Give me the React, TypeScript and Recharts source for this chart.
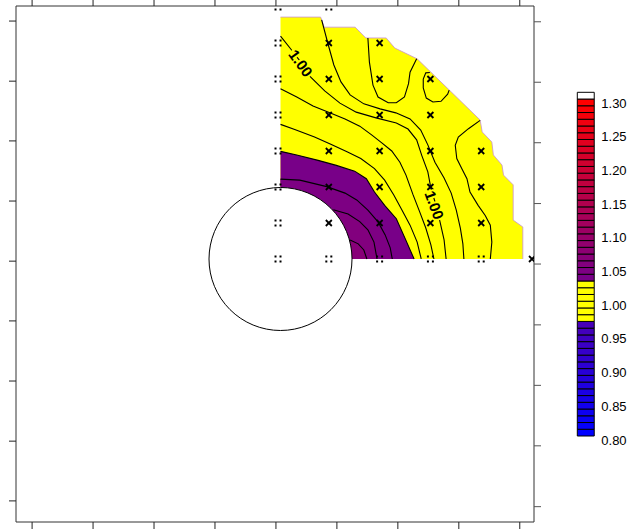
import React from 'react';
import { ComposedChart, Area, Line, Scatter, XAxis, YAxis, ReferenceArea } from 'recharts';

// grid units: x = column of sample nodes, y = row of sample nodes (hole centre at 0,0)
const fillEdge = [[0.0, 6.72], [0.79, 6.72], [0.86, 6.44], [1.47, 6.44], [1.68, 6.14], [2.08, 6.14], [2.25, 5.86], [2.69, 5.56], [3.93, 3.86], [3.97, 3.53], [4.16, 3.25], [4.19, 2.89], [4.36, 2.61], [4.39, 2.33], [4.58, 2.06], [4.58, 1.08], [4.77, 0.89], [4.77, 0.0]];

const c106 = [[1.37, 0.53], [1.53, 0.42], [1.64, 0.25], [1.7, 0.0]];
const c105 = [[1.04, 1.37], [1.33, 1.25], [1.56, 1.04], [1.72, 0.81], [1.84, 0.47], [1.9, 0.0]];
const c104 = [[0.0, 2.22], [0.38, 2.19], [0.91, 2.01], [1.27, 1.83], [1.5, 1.64], [1.72, 1.36], [1.92, 1.03], [2.06, 0.67], [2.16, 0.31], [2.2, 0.0]];
const c103 = [[0.0, 2.99], [0.34, 2.88], [0.74, 2.74], [1.1, 2.6], [1.46, 2.44], [1.69, 2.23], [1.85, 1.86], [2.05, 1.49], [2.28, 1.12], [2.45, 0.58], [2.63, 0.0]];
const c102 = [[0.0, 3.74], [0.28, 3.6], [0.67, 3.39], [0.99, 3.19], [1.32, 2.97], [1.58, 2.79], [1.85, 2.51], [2.05, 2.19], [2.23, 1.78], [2.39, 1.36], [2.55, 0.94], [2.69, 0.47], [2.77, 0.0]];
const c101 = [[0.0, 4.73], [0.32, 4.5], [0.64, 4.25], [0.97, 4.06], [1.27, 3.89], [1.56, 3.69], [1.8, 3.44], [2.0, 3.22], [2.19, 3.0], [2.35, 2.69], [2.47, 2.33], [2.61, 1.78], [2.74, 1.31], [2.86, 0.86], [2.96, 0.39], [3.02, 0.0]];
const c100 = [[0.0, 6.19], [0.21, 5.82], [0.4, 5.47], [0.59, 5.06], [0.87, 4.67], [1.17, 4.33], [1.49, 4.08], [1.88, 3.92], [2.28, 3.78], [2.51, 3.61], [2.68, 3.31], [2.78, 2.88], [2.9, 2.42], [2.96, 1.97], [3.06, 1.5], [3.14, 1.03], [3.22, 0.53], [3.26, 0.0]];
const c099 = [[0.81, 6.64], [0.93, 6.0], [1.05, 5.39], [1.19, 4.92], [1.37, 4.56], [1.64, 4.31], [1.96, 4.17], [2.27, 4.06], [2.55, 3.89], [2.76, 3.58], [2.9, 3.17], [3.04, 2.69], [3.22, 2.25], [3.36, 1.83], [3.46, 1.36], [3.54, 0.86], [3.59, 0.42], [3.61, 0.0]];
const c098top = [[1.72, 6.14], [1.75, 5.47], [1.82, 4.83], [1.92, 4.5], [2.12, 4.34], [2.28, 4.34], [2.44, 4.5], [2.52, 4.87], [2.55, 5.19], [2.68, 5.56]];
const c098right = [[3.93, 3.85], [3.7, 3.62], [3.5, 3.39], [3.44, 3.16], [3.47, 2.79], [3.57, 2.51], [3.67, 2.23], [3.73, 1.86], [3.89, 1.49], [4.03, 1.21], [4.13, 0.94], [4.16, 0.47], [4.13, 0.0]];
const c097 = [[2.94, 5.18], [2.86, 5.17], [2.81, 5.0], [2.81, 4.75], [2.87, 4.47], [3.0, 4.36], [3.16, 4.38], [3.29, 4.58], [3.32, 4.69]];

const contourLabels = [
  { x: 0.4, y: 5.44, text: '1.00', angle: 54 },
  { x: 3.03, y: 1.5, text: '1.00', angle: 70 },
];

const crossNodes = [[1, 1], [2, 1], [3, 1], [4, 1], [1, 2], [2, 2], [3, 2], [4, 2], [1, 3], [2, 3], [3, 3], [4, 3], [1, 4], [2, 4], [3, 4], [1, 5], [2, 5], [3, 5], [1, 6], [2, 6], [5, 0]];
const edgeNodes = [[0, 0], [0, 1], [0, 2], [0, 3], [0, 4], [0, 5], [0, 6], [0, 7], [1, 0], [2, 0], [3, 0], [4, 0], [1, 7]];
const holeCentre = [[0, 0]];

const xTicks = [-4.89, -3.69, -2.49, -1.29, -0.09, 1.11, 2.31, 3.51, 4.71];
const yTicksLeft = [6.61, 4.94, 3.28, 1.61, -0.06, -1.72, -3.39, -5.06, -6.72];
const yTicksRight = [6.59, 4.91, 3.23, 1.54, -0.14, -1.83, -3.51, -5.19, -6.88];

const levels = [0.8, 0.81, 0.82, 0.83, 0.84, 0.85, 0.86, 0.87, 0.88, 0.89, 0.9, 0.91, 0.92, 0.93, 0.94, 0.95, 0.96, 0.97, 0.98, 0.99, 1.0, 1.01, 1.02, 1.03, 1.04, 1.05, 1.06, 1.07, 1.08, 1.09, 1.1, 1.11, 1.12, 1.13, 1.14, 1.15, 1.16, 1.17, 1.18, 1.19, 1.2, 1.21, 1.22, 1.23, 1.24, 1.25, 1.26, 1.27, 1.28, 1.29, 1.3, 1.31];
const barTicks = [0.8, 0.85, 0.9, 0.95, 1.0, 1.05, 1.1, 1.15, 1.2, 1.25, 1.3];

const pts = (a: number[][]) => a.map(([x, y]) => ({ x, y }));

const lerp = (a: number[], b: number[], t: number) =>
  `rgb(${a.map((v, i) => Math.round(v + (b[i] - v) * t)).join(',')})`;

function levelColor(v: number) {
  if (v >= 1.295) return '#ffffff';
  if (v >= 0.965 && v < 1.025) return '#ffff00';
  if (v >= 1.025) return lerp([120, 0, 136], [255, 0, 0], (v - 1.03) / 0.26);
  return lerp([0, 0, 255], [72, 0, 184], (v - 0.8) / 0.16);
}

const FONT = '"Liberation Sans", Arial, sans-serif';
const AX = { xAxisId: 'b', yAxisId: 'l' };
const X_DOMAIN = [-5.207, 4.99];
const Y_DOMAIN = [-7.306, 7.028];

const Cross = (p: any) => {
  const x = p.cx - 2.5;
  const y = p.cy;
  return (
    <g stroke="#000" strokeWidth={1.8}>
      <line x1={x - 3} y1={y - 3} x2={x + 3} y2={y + 3} />
      <line x1={x - 3} y1={y + 3} x2={x + 3} y2={y - 3} />
    </g>
  );
};

const EdgeMark = (p: any) => {
  const x = p.cx - 2.5;
  const y = p.cy;
  return (
    <g fill="#000">
      <rect x={x - 3.5} y={y - 3.5} width={2} height={2} />
      <rect x={x + 1.5} y={y - 3.5} width={2} height={2} />
      <rect x={x - 3.5} y={y + 1.5} width={2} height={2} />
      <rect x={x + 1.5} y={y + 1.5} width={2} height={2} />
    </g>
  );
};

const Hole = (p: any) => <circle cx={p.cx} cy={p.cy} r={71.5} fill="#fff" stroke="#000" strokeWidth={1} />;

const LabelMark = (p: any) => {
  const { cx, cy, payload } = p;
  return (
    <text
      x={cx}
      y={cy}
      transform={`rotate(${payload.angle} ${cx} ${cy})`}
      textAnchor="middle"
      dominantBaseline="central"
      fontSize={15}
      fontWeight="bold"
      fontFamily={FONT}
      fill="#000"
      stroke="#ffff00"
      strokeWidth={4}
      paintOrder="stroke"
    >
      {payload.text}
    </text>
  );
};

const BarTick = (p: any) => (
  <text x={p.x} y={p.y + 8.5} fontSize={13} fontFamily={FONT} fill="#000">
    {Number(p.payload.value).toFixed(2)}
  </text>
);

const bands: [number[][], number][] = [
  [c103, 1.03],
  [c104, 1.04],
  [c105, 1.05],
  [c106, 1.06],
];

const lines = [c106, c105, c104, c103, c102, c101, c100, c099, c098top, c098right, c097];

const cells = levels.slice(0, -1).map((lo, i) => ({ lo, hi: levels[i + 1] }));

const frame = { stroke: '#333', strokeWidth: 1 };
const tickStyle = { stroke: '#222', strokeWidth: 1 };
const noLabel = () => '';

export default function App() {
  return (
    <div style={{ position: 'absolute', left: 0, top: 0, width: 643, height: 529, background: '#fff' }}>
      <ComposedChart width={643} height={529} margin={{ top: 0, right: 101, bottom: 0, left: 0 }}>
        <XAxis xAxisId="b" type="number" dataKey="x" domain={X_DOMAIN} allowDataOverflow ticks={xTicks} interval={0}
          height={7} tickSize={7} tickFormatter={noLabel} axisLine={frame} tickLine={tickStyle} />
        <XAxis xAxisId="t" orientation="top" type="number" dataKey="x" domain={X_DOMAIN} allowDataOverflow ticks={xTicks} interval={0}
          height={6} tickSize={7} tickFormatter={noLabel} axisLine={frame} tickLine={tickStyle} />
        <YAxis yAxisId="l" type="number" dataKey="y" domain={Y_DOMAIN} allowDataOverflow ticks={yTicksLeft} interval={0}
          width={16} tickSize={7} tickFormatter={noLabel} axisLine={frame} tickLine={tickStyle} />
        <YAxis yAxisId="r" orientation="right" type="number" domain={Y_DOMAIN} allowDataOverflow ticks={yTicksRight} interval={0}
          width={8} tickSize={7} tickFormatter={noLabel} axisLine={frame} tickLine={{ stroke: '#555', strokeWidth: 1 }} />

        <Area {...AX} data={pts(fillEdge)} dataKey="y" type="linear" baseValue={0} fill="#ffff00" fillOpacity={1}
          stroke="#c890d0" strokeWidth={0.8} dot={false} activeDot={false} isAnimationActive={false} />
        {bands.map(([b, v], i) => (
          <Area key={'band' + i} {...AX} data={pts(b)} dataKey="y" type="linear" baseValue={0} fill={levelColor(v)}
            fillOpacity={1} stroke="none" dot={false} activeDot={false} isAnimationActive={false} />
        ))}
        {lines.map((l, i) => (
          <Line key={'line' + i} {...AX} data={pts(l)} dataKey="y" type="linear" stroke="#000" strokeWidth={1.1}
            dot={false} activeDot={false} isAnimationActive={false} />
        ))}

        <Scatter {...AX} data={pts(holeCentre)} shape={Hole} isAnimationActive={false} />
        <Scatter {...AX} data={pts(crossNodes)} shape={Cross} isAnimationActive={false} />
        <Scatter {...AX} data={pts(edgeNodes)} shape={EdgeMark} isAnimationActive={false} />
        <Scatter {...AX} data={contourLabels} shape={LabelMark} isAnimationActive={false} />
      </ComposedChart>

      <div style={{ position: 'absolute', left: 560, top: 80 }}>
        <ComposedChart width={83} height={370} margin={{ top: 12.3, right: 0, bottom: 14, left: 17.3 }} data={cells}>
          <XAxis type="number" dataKey="lo" domain={[0, 1]} hide />
          <YAxis type="number" orientation="right" domain={[0.8, 1.31]} allowDataOverflow ticks={barTicks} interval={0}
            width={43.7} axisLine={false} tickLine={false} tickSize={0} tickMargin={2} tick={BarTick} />
          {cells.map((c, i) => (
            <ReferenceArea key={i} x1={0} x2={1} y1={c.lo} y2={c.hi} fill={levelColor(c.lo)} fillOpacity={1}
              stroke="#000" strokeWidth={1} ifOverflow="visible" />
          ))}
        </ComposedChart>
      </div>
    </div>
  );
}
